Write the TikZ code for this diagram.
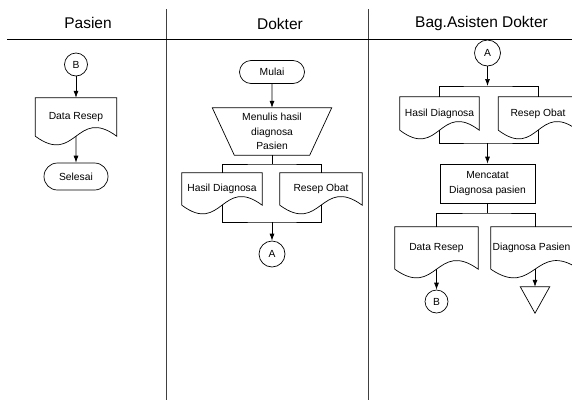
\documentclass[tikz,border=0pt]{standalone}
\usepackage{fontspec}
\setmainfont{Liberation Sans}
\usetikzlibrary{arrows.meta,calc,shapes.misc}
\tikzset{
  flow/.style={draw=black, line width=0.7pt},
  arr/.style={flow, -{Latex[length=7pt,width=5pt]}},
  lane/.style={draw=black!75, line width=1pt},
  head/.style={font=\fontsize{15.5}{18}\selectfont, inner sep=0pt},
  lbl/.style={font=\fontsize{10.3}{14.5}\selectfont, align=center, inner sep=0pt},
  conn/.style={lbl, circle, flow, minimum size=#1},
  term/.style={lbl, rounded rectangle, flow},
  docnode/.style={lbl},
  procbox/.style={lbl, flow, minimum width=95pt, minimum height=39pt},
}
\newcommand\docoutline[1]{%
  \draw[flow] (#1.south west) -- (#1.north west) -- (#1.north east) -- (#1.south east)
    .. controls ($(#1.south)+(0,-30)$) and ($(#1.south)+(0,30)$) .. (#1.south west);}
\begin{document}
\begin{tikzpicture}[x=1pt,y=-1pt]
\clip (0,0) rectangle (572,400);
\fill[white] (0,0) rectangle (572,400);
% swimlanes
\coordinate (l1t) at (166,9);   \coordinate (l1b) at (166,400);
\coordinate (l2t) at (368,9);   \coordinate (l2b) at (368,400);
\coordinate (hl) at (7,39);     \coordinate (hr) at (572,39);
\draw[lane] (l1t) -- (l1b);
\draw[lane] (l2t) -- (l2b);
\draw[flow] (hl) -- (hr);
\node[head] (hpas) at (88,23) {Pasien};
\node[head] (hdok) at (280,24) {Dokter};
\node[head] (hasi) at (481.5,23) {Bag.Asisten Dokter};

% Pasien lane
\node[conn=23pt] (B1) at (76,64.5) {B};
\node[docnode, minimum width=81pt, minimum height=38pt] (dr1) at (76,117) {Data Resep};
\node[term, minimum width=64pt, minimum height=27pt] (sel) at (76,176.5) {Selesai};
\docoutline{dr1}
\draw[arr] (B1) -- (dr1.north);
\draw[arr] (dr1.south) -- (sel);

% Dokter lane
\node[term, minimum width=65pt, minimum height=23pt] (mulai) at (272,72) {Mulai};
\node[lbl, minimum width=119pt, minimum height=47pt] (tulis) at (272,131.5) {Menulis hasil\\diagnosa\\Pasien};
\draw[flow] (tulis.north west) -- (tulis.north east) -- ([xshift=-22pt]tulis.south east)
  -- ([xshift=22pt]tulis.south west) -- cycle;
\node[docnode, minimum width=80pt, minimum height=32pt] (hd1) at (222,189) {Hasil Diagnosa};
\node[docnode, minimum width=82pt, minimum height=32pt] (ro1) at (321,189) {Resep Obat};
\docoutline{hd1}
\docoutline{ro1}
\node[conn=26pt] (A1) at (272,254) {A};
\coordinate (jt1) at (272,164);
\coordinate (jb1) at (272,222);
\draw[arr] (mulai) -- (tulis.north);
\draw[flow] (tulis.south) -- (jt1);
\draw[flow] (hd1.north) |- (jt1) -| (ro1.north);
\draw[flow] (hd1.south) |- (jb1) -| (ro1.south);
\draw[arr] (jb1) -- (A1);

% Bag. Asisten Dokter lane
\node[conn=26pt] (A2) at (487.5,53) {A};
\node[docnode, minimum width=79pt, minimum height=33pt] (hd2) at (439.5,113.5) {Hasil Diagnosa};
\node[docnode, minimum width=79pt, minimum height=33pt] (ro2) at (538,113.5) {Resep Obat};
\docoutline{hd2}
\docoutline{ro2}
\node[procbox] (catat) at (487.5,183.5) {Mencatat\\Diagnosa pasien};
\node[docnode, minimum width=83pt, minimum height=42pt] (dr2) at (436.5,248) {Data Resep};
\node[docnode, minimum width=88pt, minimum height=42pt] (dp2) at (535,248) {\hspace*{-7pt}Diagnosa Pasien};
\docoutline{dr2}
\docoutline{dp2}
\node[conn=23pt] (B2) at (436.5,301.5) {B};
\node[minimum width=29pt, minimum height=26pt, inner sep=0pt] (st) at (535,300) {};
\draw[flow] (st.north west) -- (st.north east) -- (st.south) -- cycle;
\coordinate (jt2) at (487.5,86);
\coordinate (jb2) at (487.5,143);
\coordinate (jt3) at (487.5,213);
\draw[arr] (A2) -- (jt2);
\draw[flow] (hd2.north) |- (jt2) -| (ro2.north);
\draw[flow] (hd2.south) |- (jb2) -| (ro2.south);
\draw[arr] (jb2) -- (catat);
\draw[flow] (catat) -- (jt3);
\draw[flow] (dr2.north) |- (jt3) -| (dp2.north);
\draw[arr] (dr2.south) -- (B2);
\draw[arr] (dp2.south) -- (st.north);
\end{tikzpicture}
\end{document}
